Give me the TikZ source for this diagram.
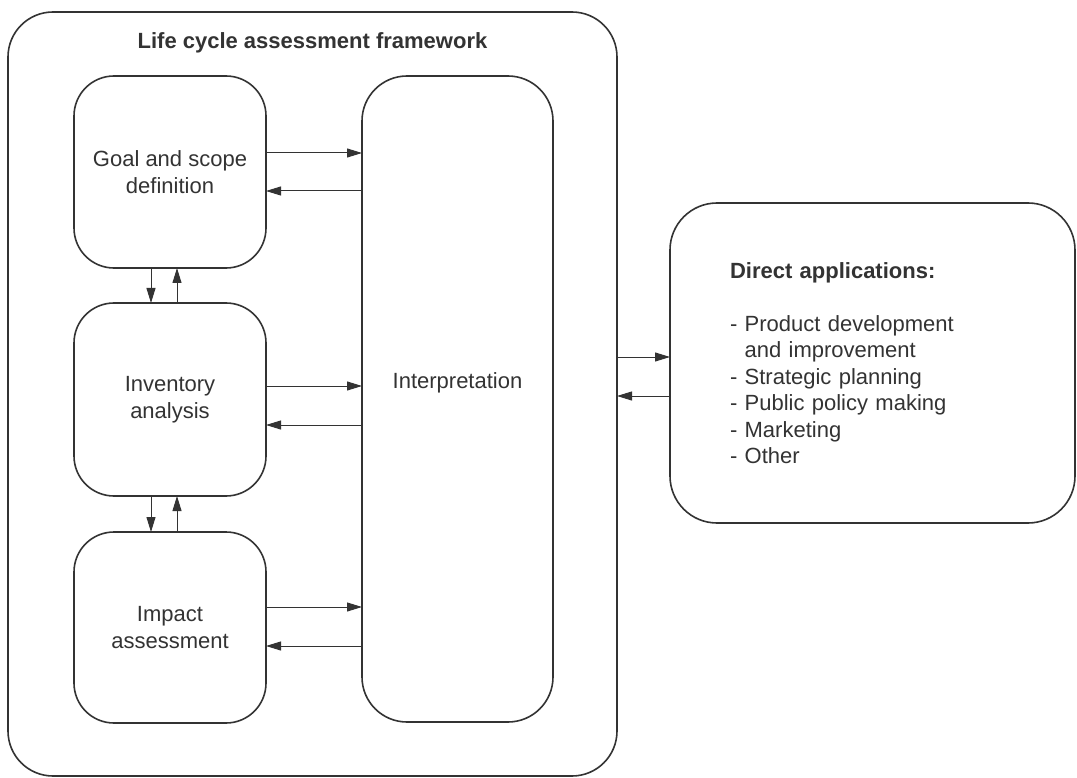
\documentclass[tikz,border=0pt]{standalone}
\usepackage{fontspec}
\setmainfont{Liberation Sans}
\usetikzlibrary{arrows.meta}
\definecolor{ink}{HTML}{333333}
\begin{document}
\begin{tikzpicture}[x=1pt,y=-1pt,
  rbox/.style={draw=ink, line width=1.6pt, rounded corners=#1, inner sep=0pt, outer sep=0pt,
    align=center, text=ink, font=\fontsize{22}{26.5}\selectfont},
  arr/.style={draw=ink, line width=1pt, -{Triangle[length=15pt,width=9pt]}},
  lbl/.style={text=ink, inner sep=0pt, font=\fontsize{22}{26.5}\selectfont}]
\useasboundingbox (0,0) rectangle (1077,778);
\fill[white] (0,0) rectangle (1077,778);
% boxes
\node[rbox=45pt, minimum width=609pt, minimum height=764pt] (outer) at (312.5,394) {};
\node[lbl, font=\fontsize{22}{26.5}\selectfont\bfseries] (title) at (312.5,43) {Life cycle assessment framework};
\node[rbox=40pt, minimum width=192pt, minimum height=192pt] (goal) at (170,172) {Goal and scope\\definition};
\node[rbox=40pt, minimum width=192pt, minimum height=193pt] (inv) at (170,399.5) {Inventory\\analysis};
\node[rbox=40pt, minimum width=192pt, minimum height=191pt] (imp) at (170,627.5) {Impact\\assessment};
\node[rbox=45pt, minimum width=191pt, minimum height=646pt] (interp) at (457.5,399) {};
\node[lbl] (interptext) at ([yshift=16pt]interp.center) {Interpretation};
\node[rbox=47pt, minimum width=405pt, minimum height=320pt, text width=285pt, inner xsep=60pt, align=left] (direct) at (872.5,363)
  {\textbf{Direct applications:}\\[26.5pt]- Product development\\\phantom{-}\ and improvement\\- Strategic planning\\- Public policy making\\- Marketing\\- Other};
% horizontal connectors
\coordinate (g1) at ([yshift=19pt]goal.east);
\coordinate (g2) at ([yshift=-19pt]goal.east);
\coordinate (i1) at ([yshift=13.5pt]inv.east);
\coordinate (i2) at ([yshift=-25.5pt]inv.east);
\coordinate (m1) at ([yshift=20.5pt]imp.east);
\coordinate (m2) at ([yshift=-18.5pt]imp.east);
\coordinate (d1) at ([yshift=6pt]direct.west);
\coordinate (d2) at ([yshift=-33pt]direct.west);
\draw[arr] (g1) -- (g1 -| interp.west);
\draw[arr] (g2 -| interp.west) -- (g2);
\draw[arr] (i1) -- (i1 -| interp.west);
\draw[arr] (i2 -| interp.west) -- (i2);
\draw[arr] (m1) -- (m1 -| interp.west);
\draw[arr] (m2 -| interp.west) -- (m2);
\draw[arr] (d1 -| outer.east) -- (d1);
\draw[arr] (d2) -- (d2 -| outer.east);
% vertical connectors
\draw[arr] ([xshift=-19pt]goal.south) -- ([xshift=-19pt]inv.north);
\draw[arr] ([xshift=7pt]inv.north) -- ([xshift=7pt]goal.south);
\draw[arr] ([xshift=-19pt]inv.south) -- ([xshift=-19pt]imp.north);
\draw[arr] ([xshift=7pt]imp.north) -- ([xshift=7pt]inv.south);
\end{tikzpicture}
\end{document}
